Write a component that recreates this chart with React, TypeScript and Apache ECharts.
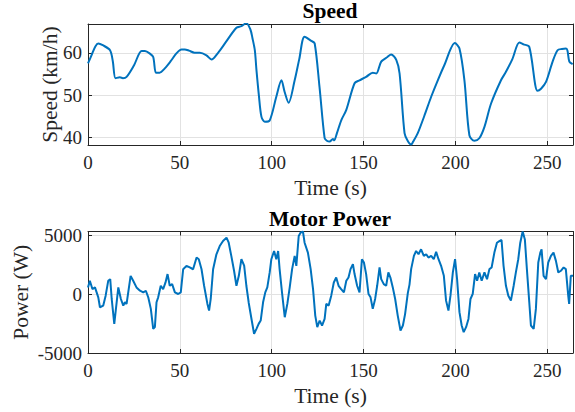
import React, { useEffect, useRef } from "react";
import * as echarts from "echarts";

// Speed trace (time s, speed km/h)
const speedTime = [
  0, 2, 4, 5.6, 8, 12, 13.5, 15, 17.4, 19, 21, 25, 29.2, 31, 33.7, 35.5, 37, 39, 41.8, 45, 48,
  50.9, 52.7, 55, 58, 60.9, 64.5, 67.2, 70.8, 75, 80.8, 83.5, 86.2, 88.4, 89.5, 90.8, 91.7, 93,
  94.4, 96.2, 98.9, 102.5, 105.3, 107, 109.2, 112.5, 115, 117.9, 121.6, 123.4, 126, 128.8, 130,
  131.5, 133.3, 134, 135.5, 137.9, 140.6, 145.1, 147.8, 151.4, 155, 156.9, 159.6, 163, 165,
  167.8, 169.6, 172.3, 174, 175.9, 177, 179.5, 183, 186.8, 190.4, 194, 199.7, 202.2, 204.9,
  207.6, 210.3, 213, 215.8, 219.4, 224.8, 227.5, 231, 234.8, 237, 240.2, 244.7, 246.6, 249.3,
  252.9, 255.6, 258, 260.2, 261, 262, 263.8,
];
const speedKmh = [
  57.5, 59.5, 61.5, 62.2, 61.8, 60.6, 58, 54, 54.2, 54, 54.3, 57, 60.4, 60.4, 59.8, 59, 55.3,
  55.3, 56.3, 58, 59.8, 60.8, 60.8, 60.5, 60, 60, 59.4, 58.4, 60, 62.5, 65.9, 66.3, 67, 65.5,
  63.5, 60.6, 55.9, 50, 44.9, 43.7, 44, 49.6, 53.5, 50.8, 48.2, 53.5, 58.5, 63.8, 62.8, 62.2,
  52, 39.8, 39.2, 39, 39.6, 39.3, 41, 44.1, 46.5, 52.8, 53.5, 54.3, 55.3, 55.1, 57.9, 59, 59.6,
  58.3, 55.1, 41, 39.2, 38.3, 39, 41, 45, 49.6, 53.5, 57.1, 62.3, 61, 53.5, 40.5, 39.2, 39.8,
  42.5, 48, 53.5, 55.5, 58.5, 62.4, 62, 61.4, 51, 51.5, 53.1, 57.9, 60.6, 60.9, 61, 60.5, 57.9,
  57.3,
];

// Motor power trace (time s, power W)
const powerTime = [
  0, 1, 2.4, 3.8, 4.7, 5.6, 6.5, 8.3, 9.6, 11, 12.1, 12.9, 14.3, 15.2, 16.5, 17.9, 19.2, 20.1,
  21, 21.9, 23.2, 24.6, 26.4, 28.3, 30.1, 31.5, 32.8, 34.2, 35.5, 36.4, 37.3, 38.2, 39.6, 40.9,
  42.2, 43.3, 44.5, 45.8, 47.3, 49.1, 50.5, 51.8, 53.6, 55.4, 57.2, 59.1, 60.3, 61.8, 63.2, 65,
  65.9, 66.8, 68.1, 69.9, 71.7, 73.5, 75.4, 76.6, 78, 79.5, 80.8, 82.1, 83.5, 85, 86.2, 87.5,
  89.3, 90.4, 91.7, 92.9, 94, 95.3, 96.5, 97.6, 98.9, 99.8, 101.3, 102.5, 103.5, 104.3, 105.6,
  107.1, 108.5, 109.8, 111.1, 112.5, 113.4, 114.7, 115.7, 117, 117.9, 119.7, 121.2, 122.5,
  123.7, 124.8, 126.1, 127.4, 128.8, 129.7, 131, 132.4, 133.8, 135.1, 136.4, 137.8, 139.3,
  140.6, 141.8, 142.9, 144.2, 145.1, 146.5, 147.8, 149.1, 150.2, 151.4, 152.7, 153.8, 155,
  156.3, 157.4, 158.7, 159.6, 161, 162.3, 163.5, 164.6, 165.9, 167.2, 168.6, 170.1, 171.4,
  172.6, 174.1, 175, 175.9, 177.4, 178.6, 179.9, 181.3, 182.8, 184.1, 185.3, 186.8, 188.2,
  189.5, 190.8, 192.2, 193.7, 194.9, 196.2, 197.3, 198.6, 199.8, 200.9, 202.2, 203.4, 204.5,
  205.8, 207.1, 208.2, 209.4, 210.7, 211.8, 213, 214.3, 215.8, 217.2, 218.5, 219.7, 221.2,
  222.6, 223.9, 225.1, 226.2, 227.5, 228.8, 230.2, 231.7, 232.9, 234.2, 235.3, 236.6, 237.8,
  238.9, 240.2, 241.1, 242.6, 243.8, 245.1, 246.2, 246.9, 248, 249.3, 250.5, 252, 253.4, 254.7,
  256, 257.4, 258.9, 260.1, 261.4, 261.9, 262.8, 264,
];
const powerW = [
  560, 1120, 420, 560, 140, -280, -1120, -980, -140, 1120, 1260, -420, -2530, -1260, 560, -420,
  -980, -700, -840, 140, 1540, 1120, 560, 280, 140, 280, -280, -1260, -2950, -2810, -700, -280,
  700, 420, 980, 1690, 700, 840, 140, 0, 140, 2100, 2390, 2250, 2100, 3090, 2950, 2100, 700,
  -840, -1400, -420, 2100, 3370, 4070, 4490, 4780, 4350, 3230, 1970, 700, 1540, 2950, 2400, 700,
  -760, -2390, -3370, -2950, -2530, -2250, -700, 140, 560, 1830, 2950, 3650, 2950, 3650, 2110,
  140, -1970, -840, 560, 2110, 3230, 2390, 4920, 5200, 5300, 4350, 3510, 2110, 420, -1830, -2810,
  -2250, -2670, -2110, -840, -980, -140, 980, 1400, 700, 420, 140, 1120, 1400, 2110, 2530, 1690,
  700, 140, 2950, 2670, 1690, 0, -280, -1260, -420, 700, 2250, 1260, 840, 700, 1830, 1400, 560,
  -420, -1830, -3090, -2670, -1700, 100, 800, 2110, 3230, 3650, 3370, 3790, 3230, 3370, 3090,
  3230, 2950, 3570, 2950, 2390, 1540, -560, -1400, -140, 1830, 2950, 1260, -1540, -2670, -3230,
  -2810, -2110, -420, 0, 1690, 1120, 1830, 1120, 1830, 1260, 2110, 2250, 3510, 4350, 4490, 4580,
  2390, 700, -140, -560, 700, 1830, 2950, 4350, 5300, 4630, 2110, -700, -2670, -2950, -1260,
  2670, 3510, 3790, 1540, 1260, 2670, 3230, 3510, 2810, 1830, 1970, 2250, 2110, -140, -840, 1540,
  1540,
];

const speedTitle = "Speed";
const powerTitle = "Motor Power";
const timeLabel = "Time (s)";
const speedLabel = "Speed (km/h)";
const powerLabel = "Power (W)";

export default function App() {
  const ref = useRef<HTMLDivElement>(null);

  useEffect(() => {
    const chart = echarts.init(ref.current!, null, { renderer: "svg" });
    const font = "Liberation Serif";
    const ink = "#262626";
    const gridColor = "#e2e2e2";
    const lineColor = "#0072BD";

    const axisLine = { show: true, onZero: false, lineStyle: { color: ink, width: 1 } };
    const tick = { show: true, inside: true, length: 4, lineStyle: { color: ink, width: 1 } };
    const label = { fontFamily: font, fontSize: 19, color: ink };
    const nameStyle = { fontFamily: font, fontSize: 21.5, color: ink };

    const xMain = (gridIndex: number) => ({
      type: "value",
      gridIndex,
      min: 0,
      max: 264,
      interval: 50,
      position: "bottom",
      axisLine,
      axisTick: tick,
      axisLabel: { ...label, margin: 8, showMaxLabel: false },
      splitLine: { show: true, lineStyle: { color: gridColor, width: 1 } },
      name: timeLabel,
      nameLocation: "middle",
      nameGap: 32,
      nameMoveOverlap: false,
      nameTextStyle: nameStyle,
    });
    const xTop = (gridIndex: number) => ({
      type: "value",
      gridIndex,
      min: 0,
      max: 264,
      interval: 50,
      position: "top",
      axisLine,
      axisTick: tick,
      axisLabel: { show: false },
      splitLine: { show: false },
    });

    const speed = speedTime.map((t, i) => [t, speedKmh[i]]);
    const power = powerTime.map((t, i) => [t, powerW[i]]);

    chart.setOption({
      animation: false,
      backgroundColor: "#ffffff",
      textStyle: { fontFamily: font },
      title: [
        {
          text: speedTitle,
          left: 330,
          top: 0,
          padding: 0,
          textAlign: "center",
          textStyle: { fontFamily: font, fontSize: 21.5, fontWeight: "bold", color: "#000" },
        },
        {
          text: powerTitle,
          left: 330,
          top: 208,
          padding: 0,
          textAlign: "center",
          textStyle: { fontFamily: font, fontSize: 21.5, fontWeight: "bold", color: "#000" },
        },
      ],
      grid: [
        { left: 88, top: 24, width: 485, height: 121, outerBoundsMode: "none", containLabel: false },
        { left: 88, top: 231.5, width: 485, height: 121.5, outerBoundsMode: "none", containLabel: false },
      ],
      xAxis: [xMain(0), xTop(0), xMain(1), xTop(1)],
      yAxis: [
        {
          type: "value",
          gridIndex: 0,
          min: 38.2,
          max: 66.8,
          splitNumber: 3,
          position: "left",
          axisLine,
          axisTick: tick,
          axisLabel: { ...label, margin: 6, showMinLabel: false, showMaxLabel: false },
          splitLine: { show: true, lineStyle: { color: gridColor, width: 1 } },
          name: speedLabel,
          nameLocation: "middle",
          nameGap: 27,
          nameMoveOverlap: false,
          nameTextStyle: nameStyle,
        },
        {
          type: "value",
          gridIndex: 0,
          min: 38.2,
          max: 66.8,
          splitNumber: 3,
          position: "right",
          axisLine,
          axisTick: tick,
          axisLabel: { show: false },
          splitLine: { show: false },
        },
        {
          type: "value",
          gridIndex: 1,
          min: -5000,
          max: 5300,
          interval: 5000,
          position: "left",
          axisLine,
          axisTick: tick,
          axisLabel: {
            ...label,
            margin: 6,
            showMaxLabel: false,
            formatter: (v: number) => String(v),
          },
          splitLine: { show: true, lineStyle: { color: gridColor, width: 1 } },
          name: powerLabel,
          nameLocation: "middle",
          nameGap: 56,
          nameMoveOverlap: false,
          nameTextStyle: nameStyle,
        },
        {
          type: "value",
          gridIndex: 1,
          min: -5000,
          max: 5300,
          interval: 5000,
          position: "right",
          axisLine,
          axisTick: tick,
          axisLabel: { show: false },
          splitLine: { show: false },
        },
      ],
      series: [
        {
          type: "line",
          xAxisIndex: 0,
          yAxisIndex: 0,
          data: speed,
          showSymbol: false,
          smooth: 0.3,
          lineStyle: { color: lineColor, width: 2 },
          clip: true,
        },
        {
          type: "line",
          xAxisIndex: 2,
          yAxisIndex: 2,
          data: power,
          showSymbol: false,
          lineStyle: { color: lineColor, width: 2 },
          clip: true,
        },
      ],
    });

    return () => chart.dispose();
  }, []);

  return (
    <div
      ref={ref}
      style={{ position: "fixed", left: 0, top: 0, width: 575, height: 412, background: "#fff" }}
    />
  );
}
